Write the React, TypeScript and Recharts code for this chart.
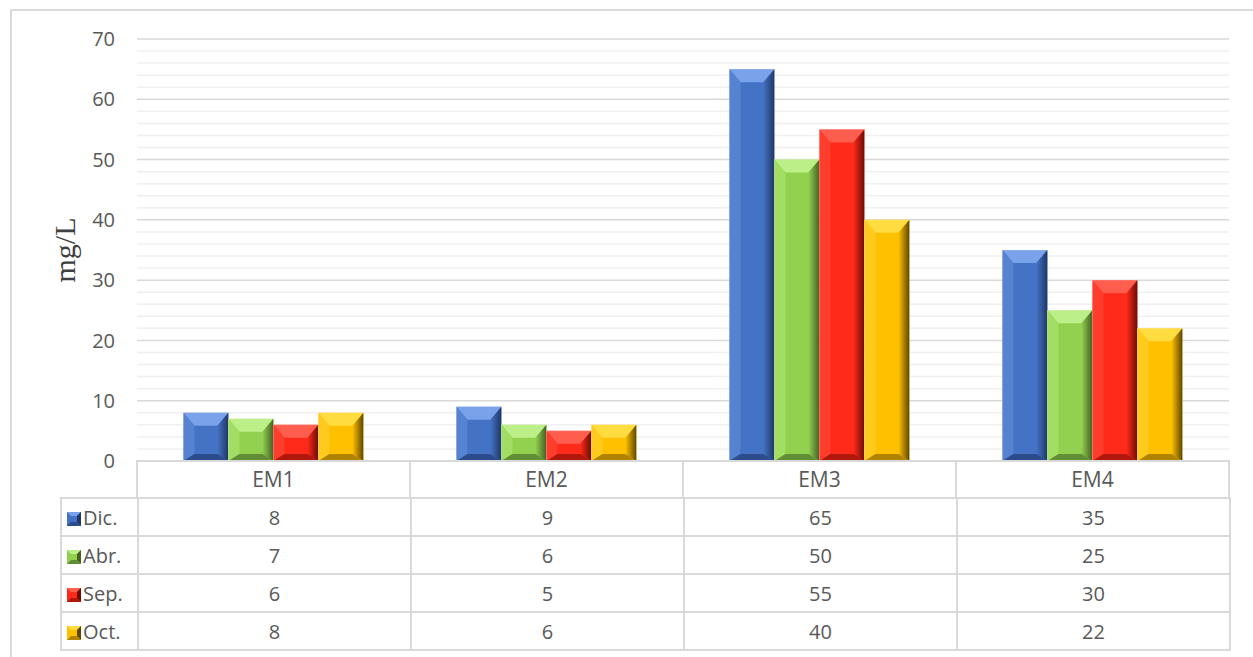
import React from 'react';
import { BarChart, Bar, XAxis, YAxis, CartesianGrid } from 'recharts';

const categories = ['EM1', 'EM2', 'EM3', 'EM4'];
const dic = [8, 9, 65, 35];
const abr = [7, 6, 50, 25];
const sep = [6, 5, 55, 30];
const oct = [8, 6, 40, 22];
const majorTicks = [0, 10, 20, 30, 40, 50, 60, 70];
const minorTicks = [2, 4, 6, 8, 12, 14, 16, 18, 22, 24, 26, 28, 32, 34, 36, 38, 42, 44, 46, 48, 52, 54, 56, 58, 62, 64, 66, 68];

const seriesList = [
  { key: 'dic', name: 'Dic.', values: dic, face: '#4472c4', top: '#7aa2ea', left: '#5583d2', right: '#1f3766', bottom: '#2d4c8c' },
  { key: 'abr', name: 'Abr.', values: abr, face: '#92d050', top: '#bdef88', left: '#a2de63', right: '#435f22', bottom: '#618d36' },
  { key: 'sep', name: 'Sep.', values: sep, face: '#ff2a1a', top: '#ff5e4e', left: '#ff3d2d', right: '#6a0b04', bottom: '#b0180c' },
  { key: 'oct', name: 'Oct.', values: oct, face: '#ffc000', top: '#ffdc40', left: '#ffca1e', right: '#5e4600', bottom: '#b08400' },
];

const data = categories.map((c, i) => ({
  name: c,
  dic: dic[i],
  abr: abr[i],
  sep: sep[i],
  oct: oct[i],
}));

const FONT = '"Open Sans", "Liberation Sans", sans-serif';

const makeBevel = (s: typeof seriesList[number]) => (props: any) => {
  const { x, y, width: w, height: h } = props;
  if (!h || h <= 0) return <g />;
  const bt = Math.min(13, h / 2, w / 2);
  const bs = Math.min(11, w / 2);
  const bb = Math.min(7, h / 3);
  const gid = `rg-${s.key}`;
  return (
    <g>
      <defs>
        <linearGradient id={gid} x1="0" y1="0" x2="1" y2="0">
          <stop offset="0%" stopColor={s.face} />
          <stop offset="100%" stopColor={s.right} />
        </linearGradient>
      </defs>
      <rect x={x} y={y} width={w} height={h} fill={s.face} />
      <polygon points={`${x},${y} ${x + w},${y} ${x + w - bs},${y + bt} ${x + bs},${y + bt}`} fill={s.top} />
      <polygon points={`${x},${y} ${x + bs},${y + bt} ${x + bs},${y + h - bb} ${x},${y + h}`} fill={s.left} />
      <polygon points={`${x + w},${y} ${x + w - bs},${y + bt} ${x + w - bs},${y + h - bb} ${x + w},${y + h}`} fill={`url(#${gid})`} />
      <polygon points={`${x},${y + h} ${x + bs},${y + h - bb} ${x + w - bs},${y + h - bb} ${x + w},${y + h}`} fill={s.bottom} />
      <rect x={x} y={y} width={w} height={h} fill="none" stroke="#ffffff" strokeOpacity={0.35} strokeWidth={0.6} />
    </g>
  );
};

const LegendKey = ({ s }: { s: typeof seriesList[number] }) => (
  <svg width={14} height={14} style={{ marginRight: 2, verticalAlign: '-1px' }}>
    <rect x={0} y={0} width={14} height={14} fill={s.face} />
    <polygon points="0,0 14,0 10,4 4,4" fill={s.top} />
    <polygon points="14,0 10,4 10,10 14,14" fill={s.right} />
    <polygon points="0,14 4,10 10,10 14,14" fill={s.bottom} />
  </svg>
);

const cellBorder = '2px solid #d9d9d9';

export default function App() {
  return (
    <div style={{ position: 'absolute', left: 0, top: 0, width: 1253, height: 657, background: '#fff', overflow: 'hidden' }}>
      <div style={{ position: 'absolute', left: 10, top: 9, width: 1260, height: 660, border: '2px solid #d9d9d9', boxSizing: 'border-box' }} />
      <div style={{ position: 'absolute', left: 0, top: 0 }}>
        <BarChart
          width={1253}
          height={498}
          data={data}
          margin={{ top: 39, right: 24, left: 77, bottom: 0 }}
          barCategoryGap="17%"
          barGap={0}
        >
          <CartesianGrid vertical={false} horizontalValues={minorTicks} stroke="#f0f0f0" strokeWidth={1.5} />
          <CartesianGrid vertical={false} horizontalValues={majorTicks} stroke="#d9d9d9" strokeWidth={1.5} />
          <XAxis
            dataKey="name"
            height={37}
            tickLine={false}
            axisLine={{ stroke: '#d9d9d9', strokeWidth: 2 }}
            tick={{ fill: '#595959', fontSize: 21, fontFamily: FONT }}
            tickMargin={5}
          />
          <YAxis
            width={60}
            domain={[0, 70]}
            ticks={majorTicks}
            interval={0}
            tickLine={false}
            axisLine={false}
            tickSize={0}
            tickMargin={22}
            tick={{ fill: '#595959', fontSize: 20, fontFamily: FONT }}
            label={{
              value: 'mg/L',
              angle: -90,
              position: 'insideLeft',
              dx: -18,
              style: { fill: '#404040', fontSize: 30, fontFamily: '"Liberation Serif", serif', textAnchor: 'middle' },
            }}
          />
          {seriesList.map((s) => (
            <Bar key={s.key} dataKey={s.key} name={s.name} isAnimationActive={false} shape={makeBevel(s)} />
          ))}
        </BarChart>
      </div>
      <table
        style={{
          position: 'absolute',
          left: 60,
          top: 497,
          borderCollapse: 'collapse',
          fontFamily: FONT,
          fontSize: 20,
          color: '#595959',
          tableLayout: 'fixed',
        }}
      >
        <colgroup>
          <col style={{ width: 77 }} />
          {categories.map((c) => (
            <col key={c} style={{ width: 273 }} />
          ))}
        </colgroup>
        <tbody>
          {seriesList.map((s) => (
            <tr key={s.key} style={{ height: 38 }}>
              <td style={{ border: cellBorder, padding: '0 0 0 5px', whiteSpace: 'nowrap' }}>
                <LegendKey s={s} />
                {s.name}
              </td>
              {s.values.map((v, i) => (
                <td key={i} style={{ border: cellBorder, textAlign: 'center', padding: 0 }}>
                  {v}
                </td>
              ))}
            </tr>
          ))}
        </tbody>
      </table>
      <div
        style={{
          position: 'absolute',
          left: 136,
          top: 460,
          width: 1094,
          height: 38,
          borderLeft: cellBorder,
          borderRight: cellBorder,
          boxSizing: 'border-box',
          pointerEvents: 'none',
        }}
      >
        {categories.slice(1).map((c, i) => (
          <div key={c} style={{ position: 'absolute', left: 273 * (i + 1) - 2, top: 0, width: 2, height: 38, background: '#d9d9d9' }} />
        ))}
      </div>
    </div>
  );
}
